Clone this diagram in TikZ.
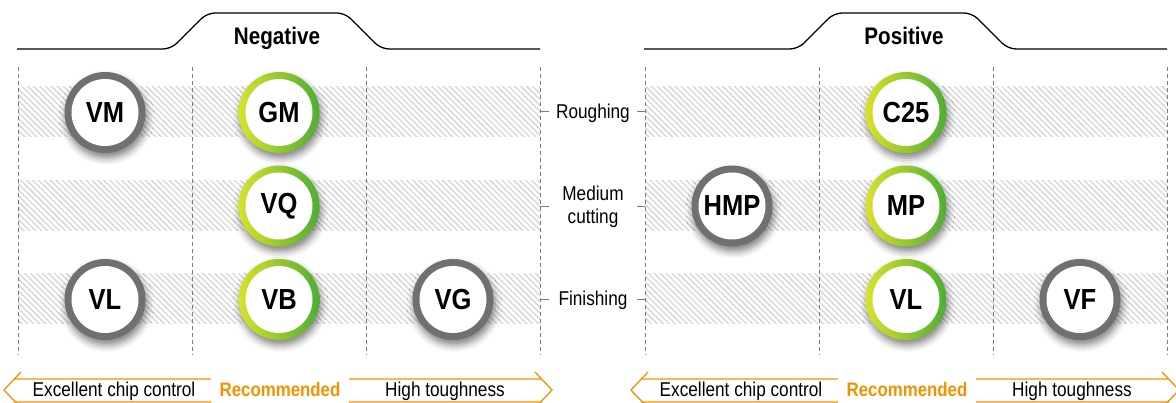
\documentclass[tikz,border=0pt]{standalone}
\usepackage{fontspec}
\setmainfont{Liberation Sans}[FakeStretch=0.86]
\newfontfamily\gradefont{Liberation Sans}[FakeStretch=0.88]
\usetikzlibrary{matrix,patterns.meta,shadows.blur}
\definecolor{ringgray}{HTML}{707070}
\definecolor{ringlight}{HTML}{D9E22B}
\definecolor{ringdark}{HTML}{4DAE33}
\definecolor{accent}{HTML}{F39200}
\definecolor{guidegray}{HTML}{7A7A7A}

\begin{document}
\begin{tikzpicture}[x=1pt, y=-1pt,
		band/.style={pattern={Lines[angle=-45,distance=4.2pt,line width=1.5pt]}, pattern color=black!15},
		guide/.style={guidegray, line width=1pt, dash pattern=on 4pt off 3pt},
		rim/.style={line width=1.3pt, rounded corners=8pt},
		head/.style={anchor=base, font=\fontsize{24}{28}\selectfont\bfseries},
		note/.style={anchor=base, font=\fontsize{20}{23}\selectfont},
		bar/.style={accent, line width=1.3pt},
		tick/.style={guidegray, line width=1pt},
		grade/.style={circle, minimum size=81pt, inner sep=0pt, outer sep=0pt, anchor=center,
			font=\gradefont\fontsize{29}{29}\selectfont\bfseries,
			blur shadow={shadow xshift=1.5pt, shadow yshift=-5pt, shadow blur radius=7pt, shadow opacity=50},
			path picture={\fill[white] (path picture bounding box.center) circle[radius=33.5pt];}},
		std/.style={grade, fill=ringgray},
		rec/.style={grade, left color=ringlight, right color=ringdark},
		grid/.style={matrix of nodes, row sep=12.5pt, column sep=93pt}]
	\useasboundingbox (0,0) rectangle (1176,403);
	\foreach \dx/\side in {0/Negative,627/Positive}{
		\begin{scope}[xshift=\dx pt]
			\foreach \y in {112,206,299}
				\fill[band] (18,\y-25) rectangle (540,\y+25);
			\foreach \x in {18,192,366,540}
				\draw[guide] (\x,67) -- (\x,355);
			\draw[rim] (17,49) -- (171,49) -- (207,13) -- (345,13) -- (381,49) -- (540,49);
			\node[head] (\side) at (277,45) {\side};
			\draw[bar] (14,379) -- (211,379) (14,402) -- (211,402) (21,372) -- (4,390) -- (21,408);
			\draw[bar] (349,379) -- (542,379) (349,402) -- (542,402) (535,372) -- (552,390) -- (535,408);
			\node[note] (chip-\side) at (114,397) {Excellent chip control};
			\node[note, text=accent, font=\fontsize{19.6}{23}\selectfont\bfseries] (best-\side) at (280,397) {Recommended};
			\node[note] (tough-\side) at (445,397) {High toughness};
		\end{scope}
	}
	\foreach \y in {112,207,300}
		\draw[tick] (540,\y) -- (549,\y) (637,\y) -- (645,\y);
	\node[note] (rough) at (593,119) {Roughing};
	\node[note, anchor=center, align=center] (medium) at (593,207) {Medium\\cutting};
	\node[note] (finish) at (593,306) {Finishing};
	\matrix (neg) [grid] at (279,206)
	{
		|[std]| VM & |[rec]| GM & \\
		& |[rec]| VQ & \\
		|[std]| VL & |[rec]| VB & |[std]| VG \\
	};
	\matrix (pos) [grid] at (906,206)
	{
		& |[rec]| C25 & \\
		|[std]| HMP & |[rec]| MP & \\
		& |[rec]| VL & |[std]| VF \\
	};
\end{tikzpicture}
\end{document}
